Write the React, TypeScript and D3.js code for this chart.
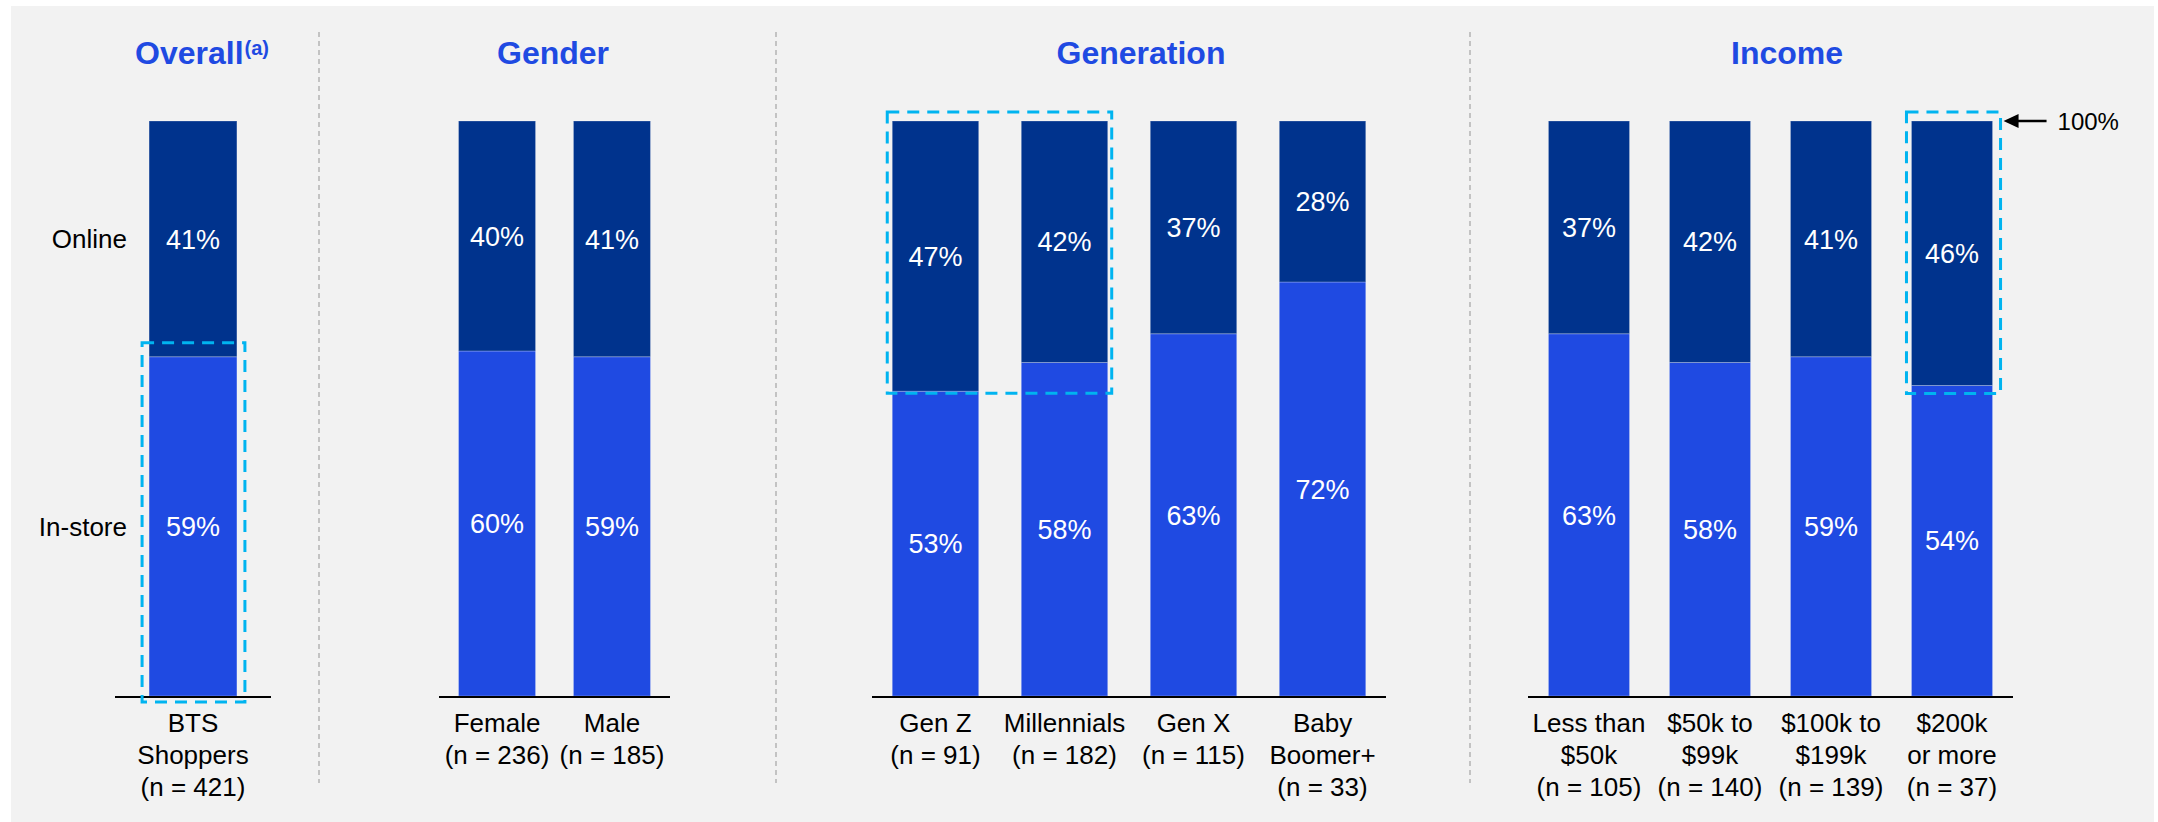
import React from "react";
import * as d3 from "d3";

// ---- data ---------------------------------------------------------------
const groupTitles = ["Overall", "Gender", "Generation", "Income"];
const categoryLines: string[][] = [
  ["BTS", "Shoppers"],
  ["Female"],
  ["Male"],
  ["Gen Z"],
  ["Millennials"],
  ["Gen X"],
  ["Baby", "Boomer+"],
  ["Less than", "$50k"],
  ["$50k to", "$99k"],
  ["$100k to", "$199k"],
  ["$200k", "or more"],
];
const sampleSizes = [421, 236, 185, 91, 182, 115, 33, 105, 140, 139, 37];
const groupIndex = [0, 1, 1, 2, 2, 2, 2, 3, 3, 3, 3];
const inStoreShare = [59, 60, 59, 53, 58, 63, 72, 63, 58, 59, 54];
const onlineShare = [41, 40, 41, 47, 42, 37, 28, 37, 42, 41, 46];
const seriesNames = ["In-store", "Online"];

// ---- layout -------------------------------------------------------------
const W = 2158;
const H = 822;
const FONT = "'Liberation Sans', Arial, Helvetica, sans-serif";
const COLORS = { "In-store": "#1f4ae2", Online: "#00338d" } as Record<string, string>;
const TITLE_BLUE = "#1f4ae2";
const HIGHLIGHT = "#00b4f0";

// horizontal extent of each group's baseline and its outer padding
const groupRanges: [number, number][] = [
  [115, 271],
  [439, 670],
  [872, 1386],
  [1528, 2013],
];
const groupOuterPad = [0.26, 0.17, 0.157, 0.169];
const titleX = [135, 553, 1141, 1787];
const dividersX = [319, 776, 1470];

const y = d3.scaleLinear().domain([0, 100]).range([696, 121]);

const rows = inStoreShare.map((v, i) => ({
  key: i,
  "In-store": v,
  Online: onlineShare[i],
}));
const stacked = d3.stack<any>().keys(seriesNames)(rows);

const xScales = groupTitles.map((_, g) => {
  const members = groupIndex.map((gi, i) => (gi === g ? i : -1)).filter((i) => i >= 0);
  return d3
    .scaleBand<number>()
    .domain(members)
    .range(groupRanges[g])
    .paddingInner(0.33)
    .paddingOuter(groupOuterPad[g]);
});
const xOf = (i: number) => xScales[groupIndex[i]](i) as number;
const bw = (i: number) => xScales[groupIndex[i]].bandwidth();

// highlighted segments: which bars and which series, plus box padding
const highlights = [
  { bars: [0], series: "In-store", pad: { l: 7, r: 8, t: 14, b: 6 } },
  { bars: [3, 4], series: "Online", pad: { l: 5, r: 4, t: 9, b: 2 } },
  { bars: [10], series: "Online", pad: { l: 5, r: 8, t: 9, b: 8 } },
];

export default function App() {
  const baseY = y(0);
  return (
    <svg
      width={W}
      height={H}
      style={{ position: "fixed", left: 0, top: 0, background: "#ffffff" }}
      fontFamily={FONT}
    >
      <rect x={11} y={6} width={2143} height={H - 6} fill="#f2f2f2" />

      {/* group dividers */}
      {dividersX.map((x) => (
        <line
          key={x}
          x1={x}
          x2={x}
          y1={32}
          y2={783}
          stroke="#b4b4b4"
          strokeWidth={1.5}
          strokeDasharray="5 4"
        />
      ))}

      {/* group titles */}
      {groupTitles.map((t, g) => (
        <text
          key={t}
          x={titleX[g]}
          y={64}
          fontSize={32}
          fontWeight="bold"
          fill={TITLE_BLUE}
          textAnchor={g === 0 ? "start" : "middle"}
        >
          {t}
          {g === 0 && (
            <tspan fontSize={20} dy={-9} dx={1}>
              (a)
            </tspan>
          )}
        </text>
      ))}

      {/* stacked bars */}
      {stacked.map((layer) => (
        <g key={layer.key} fill={COLORS[layer.key]}>
          {layer.map((d, i) => (
            <rect
              key={i}
              x={xOf(i)}
              y={y(d[1])}
              width={bw(i)}
              height={y(d[0]) - y(d[1])}
              stroke="#ffffff"
              strokeOpacity={0.25}
              strokeWidth={1}
            />
          ))}
        </g>
      ))}

      {/* value labels */}
      {stacked.map((layer) =>
        layer.map((d, i) => (
          <text
            key={layer.key + i}
            x={xOf(i) + bw(i) / 2}
            y={(y(d[0]) + y(d[1])) / 2}
            dy="0.36em"
            textAnchor="middle"
            fontSize={27}
            fill="#ffffff"
          >
            {`${d[1] - d[0]}%`}
          </text>
        ))
      )}

      {/* baselines */}
      {groupRanges.map(([a, b], g) => (
        <line key={g} x1={a} x2={b} y1={baseY + 1} y2={baseY + 1} stroke="#000" strokeWidth={2} />
      ))}

      {/* series labels beside the first bar */}
      {stacked.map((layer) => (
        <text
          key={layer.key}
          x={127}
          y={(y(layer[0][0]) + y(layer[0][1])) / 2}
          dy="0.36em"
          textAnchor="end"
          fontSize={26}
          fill="#000"
        >
          {layer.key}
        </text>
      ))}

      {/* category labels */}
      {categoryLines.map((lines, i) => (
        <text
          key={i}
          x={xOf(i) + bw(i) / 2}
          y={732}
          textAnchor="middle"
          fontSize={26}
          fill="#000"
        >
          {[...lines, `(n = ${sampleSizes[i]})`].map((ln, k) => (
            <tspan key={k} x={xOf(i) + bw(i) / 2} dy={k === 0 ? 0 : 32}>
              {ln}
            </tspan>
          ))}
        </text>
      ))}

      {/* highlight boxes */}
      {highlights.map((h, k) => {
        const layer = stacked.find((l) => l.key === h.series)!;
        const x0 = d3.min(h.bars, (i) => xOf(i))! - h.pad.l;
        const x1 = d3.max(h.bars, (i) => xOf(i) + bw(i))! + h.pad.r;
        const top = y(d3.max(h.bars, (i) => layer[i][1])!) - h.pad.t;
        const bot = y(d3.min(h.bars, (i) => layer[i][0])!) + h.pad.b;
        return (
          <rect
            key={k}
            x={x0}
            y={top}
            width={x1 - x0}
            height={bot - top}
            fill="none"
            stroke={HIGHLIGHT}
            strokeWidth={3}
            strokeDasharray="12 8"
          />
        );
      })}

      {/* 100% marker */}
      {(() => {
        const last = sampleSizes.length - 1;
        const tipX = xOf(last) + bw(last) + 11;
        const yy = y(100);
        return (
          <g>
            <line x1={tipX + 12} x2={tipX + 43} y1={yy} y2={yy} stroke="#000" strokeWidth={2.5} />
            <polygon
              points={`${tipX},${yy} ${tipX + 15},${yy - 7} ${tipX + 15},${yy + 7}`}
              fill="#000"
            />
            <text x={tipX + 54} y={yy} dy="0.36em" fontSize={24} fill="#000">
              100%
            </text>
          </g>
        );
      })()}
    </svg>
  );
}
